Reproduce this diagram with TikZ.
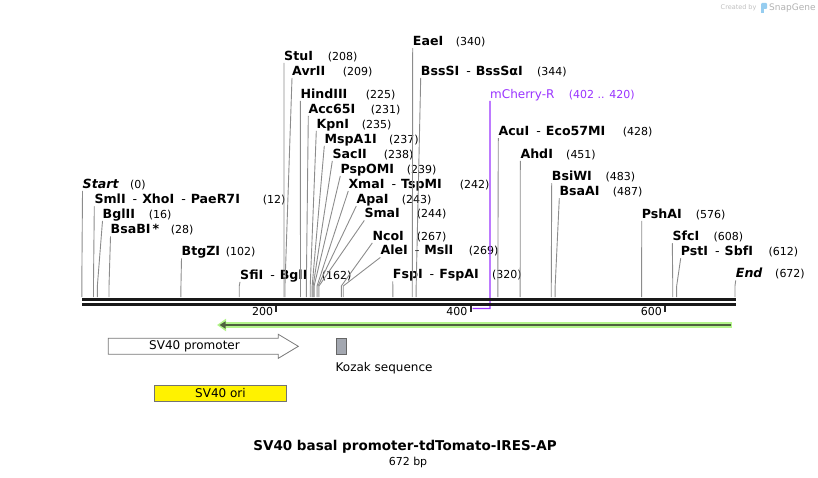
\documentclass[tikz,border=0pt]{standalone}
\usepackage{fontspec}
\setmainfont{DejaVu Sans}
\usetikzlibrary{arrows.meta}

\definecolor{stemgray}{RGB}{140,140,140}
\definecolor{primer}{RGB}{153,51,255}
\definecolor{halo}{RGB}{180,245,140}
\definecolor{featgreen}{RGB}{78,96,62}
\definecolor{kozak}{RGB}{163,167,176}
\definecolor{promgray}{RGB}{120,120,120}
\definecolor{logoblue}{RGB}{150,205,240}

\newcommand{\dsh}{\hspace{7pt}\textmd{-}\hspace{5pt}}
\newcommand{\bpx}[1]{81.8+0.972*#1}

\begin{document}
\begin{tikzpicture}[x=1pt,y=-1pt,
  enz/.style={anchor=west,inner sep=0pt,text height=9pt,text depth=2.5pt,font=\fontsize{12.6}{14}\selectfont\bfseries},
  num/.style={anchor=west,inner sep=0pt,text height=9pt,text depth=2.5pt,font=\fontsize{11}{13}\selectfont},
  stem/.style={draw=stemgray,line width=0.9pt},
  feat/.style={inner sep=0pt,font=\fontsize{12}{14}\selectfont}]
\useasboundingbox (0,0) rectangle (818,478);

% enzyme sites: name / label x / label y / number x / position
\foreach \nm/\lx/\ly/\nx/\bp [count=\i] in {
  {\textit{Start}}/82.5/185/130/0,
  SmlI\dsh XhoI\dsh PaeR7I/94.3/200.5/262.7/12,
  BglII/102.5/215/148.7/16,
  BsaBI\,*/110.5/230.5/170.7/28,
  BtgZI/181.5/252.5/225.7/102,
  SfiI\dsh BglI/240/276/321.7/162,
  StuI/284/57/327.7/208,
  AvrII/292/72/342.7/209,
  HindIII/300.3/95/365.7/225,
  Acc65I/308.3/110/370.7/231,
  KpnI/316.3/125/361.7/235,
  MspA1I/324.3/140/389/237,
  SacII/332.3/155/383.7/238,
  PspOMI/340.3/170/406.7/239,
  XmaI\dsh TspMI/348.3/185/459.7/242,
  ApaI/356.3/200/401.7/243,
  SmaI/364.3/214.5/416.7/244,
  NcoI/372.3/237/416.7/267,
  AleI\dsh MslI/380.3/251.5/468.7/269,
  FspI\dsh FspAI/392.7/275.5/492/320,
  EaeI/412.7/42.3/455.7/340,
  BssSI\dsh BssSαI/420.7/72/537/344,
  AcuI\dsh Eco57MI/498.3/132.3/622.7/428,
  AhdI/520.3/155/566/451,
  BsiWI/551.7/177.3/605.3/483,
  BsaAI/559.3/192.3/612.7/487,
  PshAI/641.7/215/695.7/576,
  SfcI/672.3/237.3/713.3/608,
  PstI\dsh SbfI/680.7/252.3/768.3/612,
  {\textit{End}}/735.7/274.5/775/672}{
  \node[enz] (e\i) at (\lx,\ly) {\nm};
  \node[num] (n\i) at (\nx,\ly) {(\bp)};
  \coordinate (k\i) at ({\bpx{\bp}},286);
  \draw[stem] (e\i.south west) -- (k\i) -- ++(0,11);
}

% primer
\node[feat,anchor=west,text=primer,text height=9pt,text depth=2.5pt] (mch) at (490,95) {mCherry-R};
\node[num,text=primer] (mchn) at (568.7,95) {(402 .. 420)};
\coordinate (p1) at ({\bpx{420}},308.5);
\coordinate (p0) at ({\bpx{402}},308.5);
\draw[primer,line width=1.2pt] (mch.south west) -- (p1) -- (p0);

% sequence
\draw[line width=3pt,black!90] (82,299.8) -- (736,299.8);
\draw[line width=2.5pt,black!90] (82,304.6) -- (736,304.6);
\foreach \t in {200,400,600}{
  \coordinate (t\t) at ({\bpx{\t}},305.5);
  \draw[line width=1.8pt,black!85] (t\t) -- ++(0,6.5);
  \node[num,anchor=east] (tl\t) at ({\bpx{\t}-3},312) {\t};
}

% features
\coordinate (gL) at (217,325);
\coordinate (gR) at (732,325);
\draw[halo,line width=5.5pt,-{Triangle[length=9pt,width=12pt]}] (gR) -- (gL);
\draw[featgreen,line width=2.5pt,-{Triangle[length=6pt,width=7pt]}] ([xshift=-1.5pt]gR) -- ([xshift=2.5pt]gL);

\draw[draw=promgray,fill=white,line width=0.8pt] (108.3,338.3) -- (278.3,338.3) -- (278.3,334.3) -- (298.3,346.3) -- (278.3,358.3) -- (278.3,354.3) -- (108.3,354.3) -- cycle;
\node[feat] (prom) at (194.5,346) {SV40 promoter};

\draw[draw=black!60,fill=kozak,line width=0.8pt] (336,338.3) rectangle (346.5,354.3);
\node[feat,anchor=west] (koz) at (335.5,368) {Kozak sequence};

\node[feat,draw=black!55,fill=yellow,line width=0.8pt,minimum width=132.4pt,minimum height=16pt] (ori) at (220.5,393) {SV40 ori};

% title
\node[font=\fontsize{13.5}{16}\selectfont\bfseries] (title) at (405,447) {SV40 basal promoter-tdTomato-IRES-AP};
\node[font=\fontsize{11}{13}\selectfont] (len) at (408,462.5) {672 bp};

% watermark
\node[anchor=west,inner sep=0pt,text=black!25,font=\fontsize{6.5}{8}\selectfont] (cby) at (720.5,8) {Created by};
\fill[logoblue,rounded corners=1pt] (761,3) rectangle (767,9);
\fill[logoblue] (761,7) rectangle (764,13);
\node[anchor=west,inner sep=0pt,text=black!30,font=\fontsize{9}{11}\selectfont] (sg) at (769,8) {SnapGene};
\end{tikzpicture}
\end{document}
